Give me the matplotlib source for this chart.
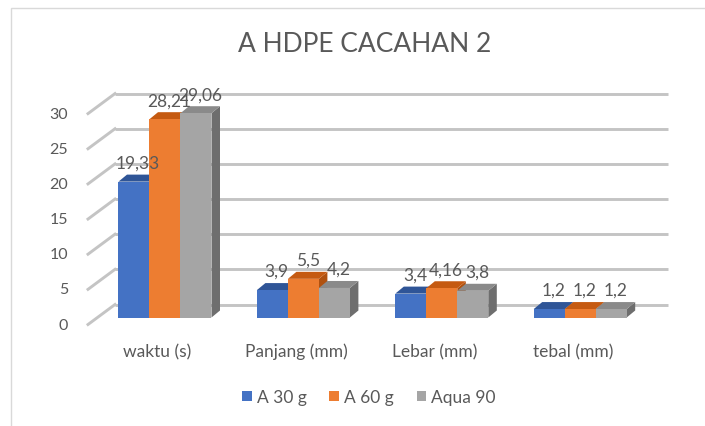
import numpy as np
import matplotlib.pyplot as plt
from matplotlib.patches import Polygon, Rectangle

# data
categories = ['waktu (s)', 'Panjang (mm)', 'Lebar (mm)', 'tebal (mm)']
series_names = ['A 30 g', 'A 60 g', 'Aqua 90']
a30 = [19.33, 3.9, 3.4, 1.2]
a60 = [28.21, 5.5, 4.16, 1.2]
aqua90 = [29.06, 4.2, 3.8, 1.2]
yticks = [0, 5, 10, 15, 20, 25, 30]
title = 'A HDPE CACAHAN 2'

series = [a30, a60, aqua90]
front_col = ['#4472C4', '#ED7D31', '#A5A5A5']
top_col = ['#2F5597', '#C55A11', '#8A8A8A']
side_col = ['#2F5597', '#B0510F', '#6E6E6E']
txt_col = '#595959'
grid_col = '#C4C4C4'

plt.rcParams['font.family'] = ['Lato', 'DejaVu Sans']

W, H = 705, 427
fig = plt.figure(figsize=(W / 100, H / 100), dpi=100)

# pixel scale of the data axes
sx = 138.4   # px per category
sy = 7.03    # px per value unit
x0_px, y0_px = 165, 318.5   # first group center, value 0 (bar front plane)
xmin, xmax, ymin, ymax = -1.0, 3.8, -8, 36
L = x0_px + sx * xmin
R = x0_px + sx * xmax
B = y0_px - sy * ymin
T = y0_px - sy * ymax
ax = fig.add_axes([L / W, 1 - B / H, (R - L) / W, (B - T) / H])
ax.set_xlim(xmin, xmax)
ax.set_ylim(ymin, ymax)
ax.axis('off')

px = lambda p: p / sx
py = lambda p: p / sy

# 3d offsets
bw = px(31)
ddx, ddy = px(8.5), py(7)            # bar depth
wall_dx, wall_dy = px(19), py(13)    # back wall relative to bar front plane
front_dx, front_dy = px(-8), py(-7)  # front edge of the side wall
wall_left = px(115 - x0_px)
wall_right = px(668 - x0_px)

# walls / gridlines
for t in yticks:
    ax.plot([wall_left, wall_right], [t + wall_dy, t + wall_dy], color=grid_col, lw=2.1, zorder=1,
            solid_capstyle='butt')
    ax.plot([wall_left + front_dx - wall_dx, wall_left], [t + front_dy, t + wall_dy],
            color=grid_col, lw=2.1, zorder=1)
    ax.text(wall_left + front_dx - wall_dx - px(20), t + front_dy, str(t), ha='right', va='center',
            fontsize=11.5, color=txt_col)

# bars
for i in range(len(categories)):
    for j, vals in enumerate(series):
        v = vals[i]
        xl = i + (j - 1.5) * bw
        xr = xl + bw
        z = 3 + i * 10 + j * 2
        side = Polygon([(xr, 0), (xr + ddx, ddy), (xr + ddx, v + ddy), (xr, v)],
                       closed=True, fc=side_col[j], ec='none', zorder=z)
        top = Polygon([(xl, v), (xr, v), (xr + ddx, v + ddy), (xl + ddx, v + ddy)],
                      closed=True, fc=top_col[j], ec='none', zorder=z)
        ax.add_patch(side)
        ax.add_patch(top)
        ax.bar(xl, v, width=bw, align='edge', color=front_col[j], zorder=z + 1)
        ax.text(xl + bw / 2 + ddx / 2, v + py(14), str(v).replace('.', ','), ha='center',
                va='baseline', fontsize=12.5, color=txt_col, zorder=100)

# category labels
for i, c in enumerate(categories):
    ax.text(i + px(-7.5), py(318.5 - 352), c, ha='center', va='center', fontsize=12.5,
            color=txt_col)

fig.text(365 / W, 1 - 44 / H, title, ha='center', va='center', fontsize=19, color=txt_col)

handles = [Rectangle((0, 0), 1, 1, fc=c, ec='none') for c in front_col]
fig.legend(handles, series_names, loc='center', bbox_to_anchor=(369 / W, 1 - 398 / H), ncol=3,
           frameon=False, fontsize=12.5, handlelength=0.55, handleheight=0.55, handletextpad=0.3,
           columnspacing=1.3, labelcolor=txt_col)

# chart border
fig.patches.append(Rectangle((11 / W, -0.1), 2, 1.1 - 9 / H, transform=fig.transFigure,
                             fill=False, ec='#D9D9D9', lw=1))

fig.savefig('out.png', dpi=100)
